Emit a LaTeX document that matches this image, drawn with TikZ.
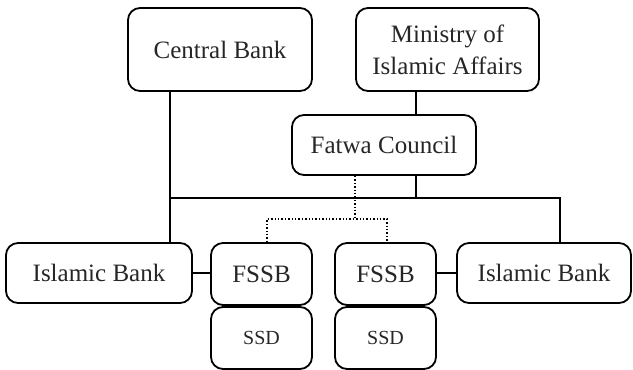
\documentclass[tikz,border=0pt]{standalone}
\usepackage{fontspec}
\setmainfont{Liberation Serif}
\begin{document}
\begin{tikzpicture}[x=1pt,y=-1pt,
  box/.style={draw, line width=1.8pt, rounded corners=12pt, inner sep=0pt, align=center,
    font=\fontsize{25}{32}\selectfont, text=black!85},
  small/.style={font=\fontsize{20}{24}\selectfont},
  link/.style={line width=1.8pt},
  dotlink/.style={line width=1.4pt, dotted}]
\useasboundingbox (0,0) rectangle (633,370);
\node[box, minimum width=184pt, minimum height=83pt] (cb) at (220,49.5) {Central Bank};
\node[box, minimum width=183pt, minimum height=83pt] (min) at (447.5,49.5) {Ministry of\\Islamic Affairs};
\node[box, minimum width=184pt, minimum height=60pt] (fc) at (384,145) {Fatwa Council};
\node[box, minimum width=186pt, minimum height=60pt] (ib1) at (99,273) {Islamic Bank};
\node[box, minimum width=101pt, minimum height=62pt] (fs1) at (261.5,274) {FSSB};
\node[box, small, minimum width=101pt, minimum height=62pt] (ssd1) at (261.5,338) {SSD};
\node[box, minimum width=101pt, minimum height=62pt] (fs2) at (385.5,274) {FSSB};
\node[box, small, minimum width=101pt, minimum height=62pt] (ssd2) at (385.5,338) {SSD};
\node[box, minimum width=174pt, minimum height=60pt] (ib2) at (544,273) {Islamic Bank};
\coordinate (j1) at (170,198);
\coordinate (j2) at (560,198);
\coordinate (j3) at (416,198);
\coordinate (d0) at (355,219);
\coordinate (d1) at (267,219);
\coordinate (d2) at (387,219);
\draw[link] (cb.south -| j1) -- (ib1.north -| j1);
\draw[link] (j1) -- (j2) -- (ib2.north -| j2);
\draw[link] (min.south -| j3) -- (fc.north -| j3);
\draw[link] (fc.south -| j3) -- (j3);
\draw[link] (ib1.east) -- (fs1.west |- ib1.east);
\draw[link] (fs2.east |- ib2.west) -- (ib2.west);
\draw[dotlink] (fc.south -| d0) -- (d0);
\draw[dotlink] (fs1.north -| d1) -- (d1) -- (d2) -- (fs2.north -| d2);
\end{tikzpicture}
\end{document}
